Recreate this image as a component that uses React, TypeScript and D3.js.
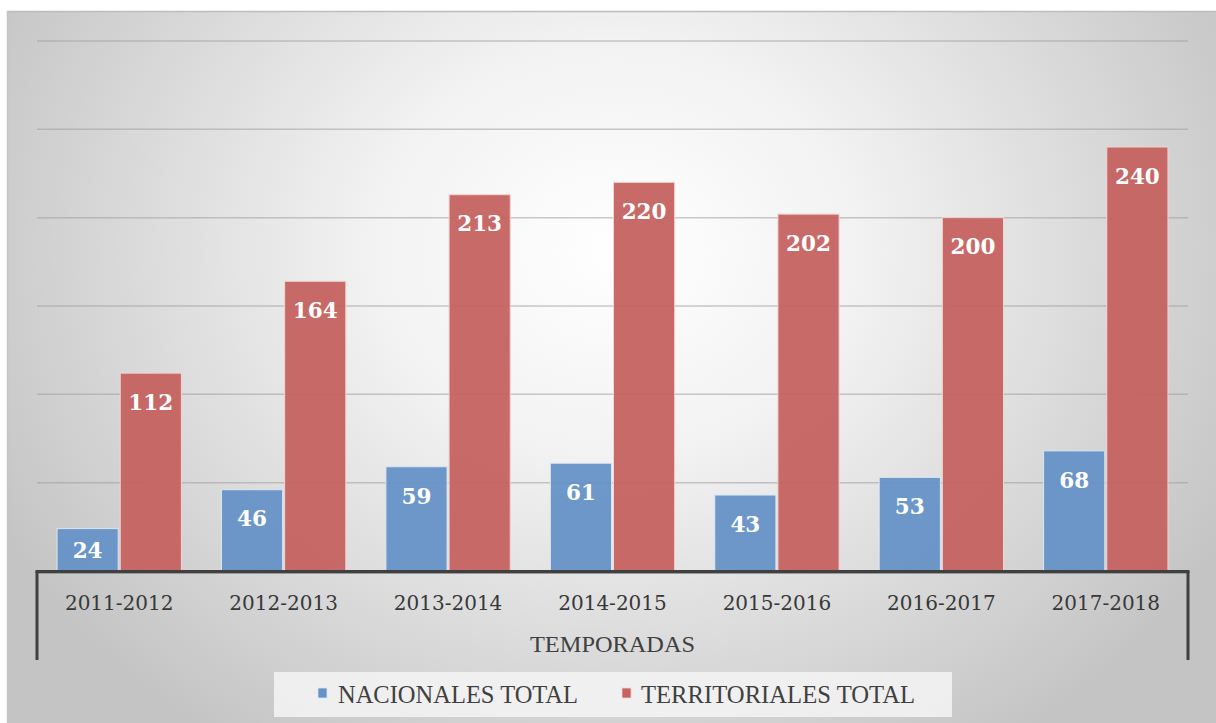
import React from "react";
import * as d3 from "d3";

const categories = ["2011-2012", "2012-2013", "2013-2014", "2014-2015", "2015-2016", "2016-2017", "2017-2018"];
const nacionales = [24, 46, 59, 61, 43, 53, 68];
const territoriales = [112, 164, 213, 220, 202, 200, 240];
const seriesNames = ["NACIONALES TOTAL", "TERRITORIALES TOTAL"];
const gridTicks = [50, 100, 150, 200, 250, 300];

const W = 1216;
const H = 723;
const FONT = "'DejaVu Serif', Georgia, serif";
const FONT2 = "'Liberation Serif', 'Times New Roman', serif";

export default function App() {
  const left = 37, right = 1188, top = 41, bottom = 571;
  const x = d3.scaleBand<string>().domain(categories).range([left, right]).paddingInner(0).paddingOuter(0);
  const y = d3.scaleLinear().domain([0, 300]).range([bottom, top]);
  const bw = x.bandwidth();
  const barW = bw * 0.372;
  const gap = 2;
  const groupOff = (bw - (2 * barW + gap)) / 2;
  const colors = ["#6592c6", "#c5625f"];
  const strokes = ["#dce6f2", "#f2d4d3"];
  const series = [nacionales, territoriales];

  const labelY = (v: number) => {
    const t = y(v);
    return Math.min(t + 29, (t + bottom) / 2);
  };

  return (
    <svg width={W} height={H} style={{ position: "absolute", left: 0, top: 0 }} fontFamily={FONT}>
      <defs>
        <radialGradient id="bg" gradientUnits="userSpaceOnUse" cx={615} cy={250} r={700} gradientTransform="translate(615 250) scale(1 0.85) translate(-615 -250)">
          <stop offset="0" stopColor="#ffffff" />
          <stop offset="0.35" stopColor="#f2f2f2" />
          <stop offset="1" stopColor="#c4c4c4" />
        </radialGradient>
      </defs>
      <rect x={0} y={0} width={W} height={H} fill="#ffffff" />
      <rect x={7} y={11} width={W - 7} height={H - 11} fill="url(#bg)" />
      <line x1={7} x2={W} y1={11.5} y2={11.5} stroke="#bdbdbd" strokeWidth={1.5} />
      <line x1={7.5} x2={7.5} y1={11} y2={H} stroke="#c4c4c4" strokeWidth={1.5} />

      {gridTicks.map((t) => (
        <line key={t} x1={left} x2={right} y1={y(t)} y2={y(t)} stroke="#9e9e9e" strokeOpacity={0.55} strokeWidth={1.5} />
      ))}

      {categories.map((c, i) => (
        <g key={c}>
          {series.map((s, k) => {
            const bx = (x(c) as number) + groupOff + k * (barW + gap);
            return (
              <rect key={k} x={bx} y={y(s[i])} width={barW} height={bottom - y(s[i])} fill={colors[k]} fillOpacity={0.95} stroke={strokes[k]} strokeWidth={1} />
            );
          })}
          {series.map((s, k) => {
            const bx = (x(c) as number) + groupOff + k * (barW + gap);
            return (
              <text key={"l" + k} x={bx + barW / 2} y={labelY(s[i])} dy="0.36em" textAnchor="middle" fill="#ffffff" fontWeight="bold" fontSize={21.5}>
                {s[i]}
              </text>
            );
          })}
          <text x={(x(c) as number) + bw / 2} y={610} textAnchor="middle" fill="#383838" fontSize={20}>
            {c}
          </text>
        </g>
      ))}

      <line x1={left - 1.5} x2={right + 1.5} y1={bottom + 0.5} y2={bottom + 0.5} stroke="#404040" strokeWidth={3} />
      <line x1={left - 1} x2={right + 1} y1={bottom + 2.5} y2={bottom + 2.5} stroke="#9a9a9a" strokeWidth={1} />
      <line x1={left} x2={left} y1={bottom} y2={660} stroke="#404040" strokeWidth={3} />
      <line x1={right} x2={right} y1={bottom} y2={660} stroke="#404040" strokeWidth={3} />

      <text x={(left + right) / 2} y={652} textAnchor="middle" fill="#404040" fontSize={22.5} fontFamily={FONT2} textLength={165} lengthAdjust="spacingAndGlyphs">
        TEMPORADAS
      </text>

      <rect x={274} y={672} width={678} height={45} fill="#f4f4f4" fillOpacity={0.85} />
      <rect x={318} y={688} width={9} height={10} fill={colors[0]} stroke={strokes[0]} strokeWidth={0.8} />
      <text x={338} y={703} fill="#404040" fontSize={24.5} fontFamily={FONT2} textLength={240} lengthAdjust="spacingAndGlyphs">
        {seriesNames[0]}
      </text>
      <rect x={622} y={688} width={9} height={10} fill={colors[1]} stroke={strokes[1]} strokeWidth={0.8} />
      <text x={641} y={703} fill="#404040" fontSize={24.5} fontFamily={FONT2} textLength={274} lengthAdjust="spacingAndGlyphs">
        {seriesNames[1]}
      </text>
    </svg>
  );
}
